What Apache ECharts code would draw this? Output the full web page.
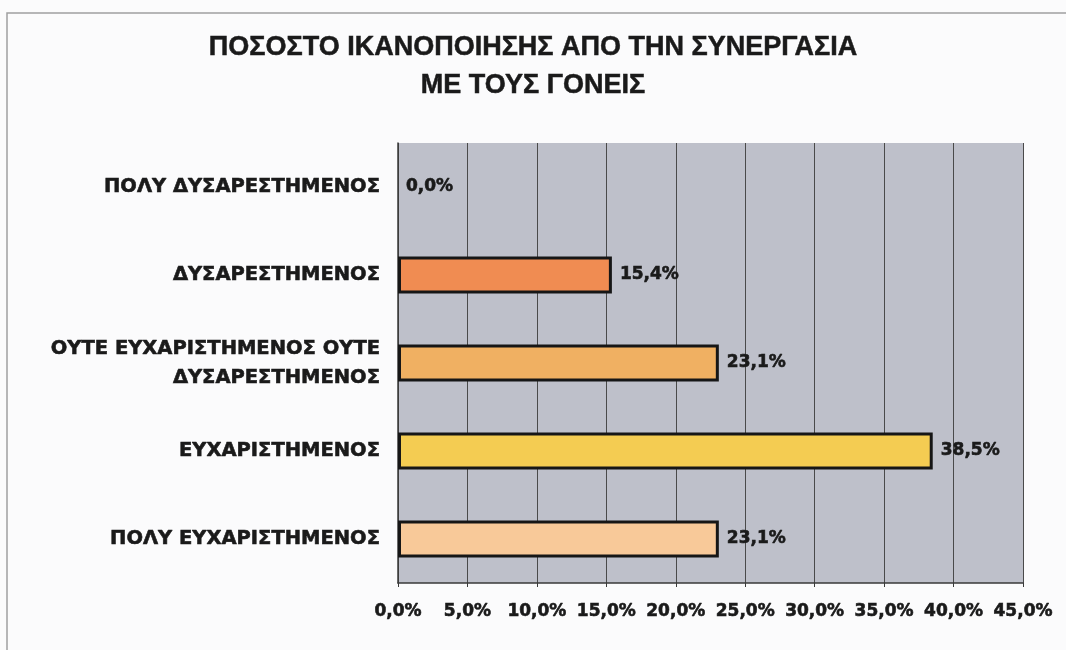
<!DOCTYPE html>
<html>
<head>
<meta charset="utf-8">
<script src="https://cdn.jsdelivr.net/npm/echarts@6/dist/echarts.min.js"></script>
<style>
  html, body { margin: 0; padding: 0; background: #fbfbfc; }
  #chart { width: 1066px; height: 650px; }
</style>
</head>
<body>
<div id="chart"></div>
<script>
// Satisfaction levels, listed top to bottom
const categories = [
  'ΠΟΛΥ ΔΥΣΑΡΕΣΤΗΜΕΝΟΣ',
  'ΔΥΣΑΡΕΣΤΗΜΕΝΟΣ',
  'ΟΥΤΕ ΕΥΧΑΡΙΣΤΗΜΕΝΟΣ ΟΥΤΕ\nΔΥΣΑΡΕΣΤΗΜΕΝΟΣ',
  'ΕΥΧΑΡΙΣΤΗΜΕΝΟΣ',
  'ΠΟΛΥ ΕΥΧΑΡΙΣΤΗΜΕΝΟΣ'
];
// Share of respondents (%)
const percentages = [0.0, 15.4, 23.1, 38.5, 23.1];
const barColors = ['#e8704a', '#f08c52', '#f0b062', '#f4cc52', '#f8c999'];

const titleLines = ['ΠΟΣΟΣΤΟ ΙΚΑΝΟΠΟΙΗΣΗΣ ΑΠΟ ΤΗΝ ΣΥΝΕΡΓΑΣΙΑ', 'ΜΕ ΤΟΥΣ ΓΟΝΕΙΣ'];

const fmtPct = v => v.toFixed(1).replace('.', ',') + '%';
// heavy bold text: bold face plus a thin outline in the same colour
const boldFont = {
  fontFamily: 'DejaVu Sans', fontWeight: 'bold', color: '#1a1a1a',
  textBorderColor: '#1a1a1a', textBorderWidth: 0.6
};

const chart = echarts.init(document.getElementById('chart'), null, { renderer: 'canvas' });
chart.setOption({
  backgroundColor: '#fbfbfc',
  animation: false,
  title: {
    text: titleLines.join('\n'),
    left: 533,
    top: 28,
    padding: 0,
    textAlign: 'center',
    textStyle: {
      fontFamily: 'Liberation Sans',
      fontWeight: 'bold',
      fontSize: 27,
      lineHeight: 38.5,
      color: '#1a1a1a',
      textBorderColor: '#1a1a1a',
      textBorderWidth: 0.5
    }
  },
  graphic: [{
    type: 'rect',
    shape: { x: 7, y: 13, width: 1070, height: 650 },
    style: { fill: null, stroke: '#a0a0a0', lineWidth: 1.5 },
    silent: true,
    z: 0
  }],
  grid: {
    left: 398,
    right: 43,
    top: 143,
    bottom: 67,
    show: true,
    backgroundColor: '#bec0ca',
    borderWidth: 0
  },
  xAxis: {
    type: 'value',
    min: 0,
    max: 45,
    interval: 5,
    axisLine: { show: true, lineStyle: { color: '#3a3a3a', width: 1.5 } },
    axisTick: { show: true, length: 4, lineStyle: { color: '#3a3a3a' } },
    splitLine: { show: true, lineStyle: { color: '#4a4a4a', width: 1 } },
    axisLabel: Object.assign({
      fontSize: 17,
      margin: 20,
      formatter: v => fmtPct(v)
    }, boldFont)
  },
  yAxis: {
    type: 'category',
    data: categories,
    inverse: true,
    axisLine: { show: true, lineStyle: { color: '#3a3a3a', width: 1.5 } },
    axisTick: { show: false },
    axisLabel: Object.assign({
      fontSize: 19.5,
      lineHeight: 29,
      margin: 18,
      align: 'right'
    }, boldFont)
  },
  series: [{
    type: 'bar',
    barWidth: '42%',
    data: percentages.map((v, i) => ({
      value: v,
      itemStyle: { color: barColors[i], borderWidth: v > 0 ? 3 : 0 }
    })),
    itemStyle: { borderColor: '#161616' },
    label: Object.assign({
      show: true,
      position: 'right',
      distance: 8,
      fontSize: 17,
      formatter: p => fmtPct(p.value)
    }, boldFont)
  }]
});
</script>
</body>
</html>
